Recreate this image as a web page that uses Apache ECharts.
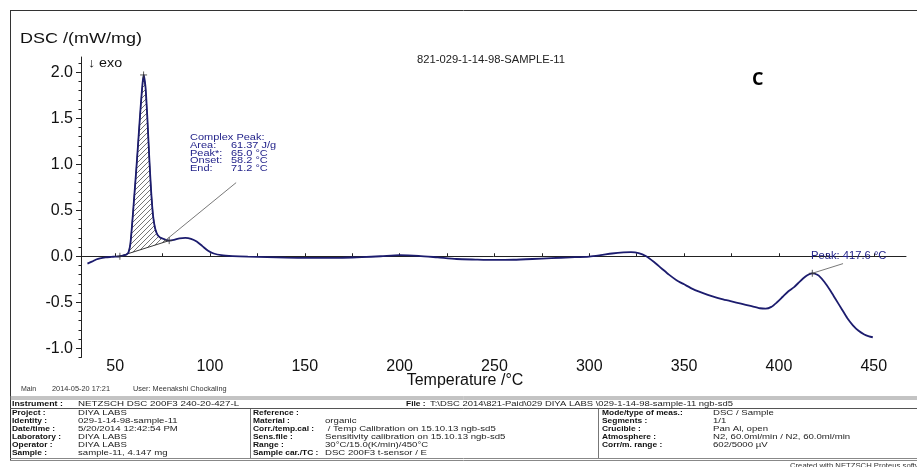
<!DOCTYPE html>
<html>
<head>
<meta charset="utf-8">
<script src="https://cdn.jsdelivr.net/npm/echarts@6/dist/echarts.min.js"></script>
<style>
  html, body { margin: 0; padding: 0; background: #fff; }
  #chart { width: 917px; height: 467px; }
</style>
</head>
<body>
<div id="chart"></div>
<script>
// DSC trace: temperature (°C) and heat flow (mW/mg)
const temps = [35.4, 38, 40, 42, 45, 48, 50, 52.5, 55, 56, 57, 58, 59, 60, 61, 62, 63, 64, 65, 66, 67, 68, 69, 70, 71, 72, 73, 74, 76, 78.5,
  81, 84, 87, 90, 93, 96, 99, 102, 106, 112, 120, 130, 140, 150, 160, 170, 180, 190, 200, 210, 220, 230, 240, 250, 260, 270, 280, 290, 300,
  306, 312, 318, 322, 326, 330, 334, 338, 342, 346, 350, 355, 360, 365, 370, 375, 380, 385, 390, 393, 396, 399, 402, 405, 408, 411, 414,
  416, 417.6, 419, 421, 424, 427, 430, 433, 436, 439, 442, 445, 447.5, 449.5];
const dsc = [-0.08, -0.055, -0.035, -0.022, -0.012, -0.007, -0.004, 0.0, 0.012, 0.02, 0.04, 0.13, 0.36, 0.63, 0.9, 1.19, 1.49, 1.77, 1.97, 1.84, 1.5, 1.07, 0.7, 0.44, 0.31, 0.245, 0.215, 0.2, 0.185, 0.17,
  0.178, 0.195, 0.2, 0.19, 0.16, 0.11, 0.06, 0.03, 0.012, 0.002, -0.005, -0.01, -0.015, -0.018, -0.018, -0.016, -0.01, 0.0, 0.012, 0.005, -0.012, -0.03, -0.036, -0.04, -0.038, -0.03, -0.02, -0.012, -0.003,
  0.012, 0.03, 0.042, 0.045, 0.035, 0.0, -0.06, -0.13, -0.2, -0.26, -0.305, -0.36, -0.4, -0.435, -0.465, -0.49, -0.515, -0.54, -0.565, -0.57, -0.55, -0.5, -0.44, -0.38, -0.335, -0.275, -0.22,
  -0.195, -0.185, -0.19, -0.21, -0.28, -0.37, -0.47, -0.57, -0.67, -0.75, -0.81, -0.85, -0.87, -0.88];

// Integration limits of the complex peak (°C) and evaluated peak positions
const integLimits = [52.5, 78.5];
const peakTemps = [65.0, 417.6];

// Axis ticks
const xTickLabels = [50, 100, 150, 200, 250, 300, 350, 400, 450];
const xTickMarks = [50, 75, 100, 125, 150, 175, 200, 225, 250, 275, 300, 325, 350, 375, 400, 425, 450];
const yTickLabels = [-1.0, -0.5, 0.0, 0.5, 1.0, 1.5, 2.0];
const yMinorTicks = [-1.1, -1.0, -0.9, -0.8, -0.7, -0.6, -0.5, -0.4, -0.3, -0.2, -0.1, 0.0, 0.1, 0.2, 0.3, 0.4, 0.5, 0.6, 0.7, 0.8, 0.9, 1.0, 1.1, 1.2, 1.3, 1.4, 1.5, 1.6, 1.7, 1.8, 1.9, 2.0, 2.1];

// Leader lines of the annotations, in data units: [from, to]
const complexLeader = [[113.8, 0.80], [75.3, 0.152]];
const peakLeader = [[417.6, -0.185], [433.8, -0.08]];

const FONT = "Arial, 'Liberation Sans', sans-serif";
const NAVY = '#23238a';

function valueAt(t) {
  const i = temps.indexOf(t);
  return dsc[i];
}

// Diagonal hatch used for the integrated peak area
const hatch = document.createElement('canvas');
hatch.width = 5; hatch.height = 5;
(function () {
  const c = hatch.getContext('2d');
  c.strokeStyle = '#3a3a3a';
  c.lineWidth = 0.7;
  c.beginPath();
  c.moveTo(0, 5); c.lineTo(5, 0);
  c.moveTo(-1, 1); c.lineTo(1, -1);
  c.moveTo(4, 6); c.lineTo(6, 4);
  c.stroke();
})();

function txt(x, y, s, o) {
  o = o || {};
  return {
    type: 'text', x: x, y: y, scaleX: o.sx || 1, silent: true, z: 10,
    style: {
      text: s,
      font: (o.weight || 'normal') + ' ' + (o.size || 8) + 'px ' + (o.family || FONT),
      fill: o.color || '#222',
      textAlign: o.align || 'left',
      textVerticalAlign: 'middle'
    }
  };
}
function hline(x1, x2, y, color, w) {
  return { type: 'line', silent: true, shape: { x1: x1, y1: y, x2: x2, y2: y }, style: { stroke: color, lineWidth: w } };
}
function vline(x, y1, y2, color, w) {
  return { type: 'line', silent: true, shape: { x1: x, y1: y1, x2: x, y2: y2 }, style: { stroke: color, lineWidth: w } };
}

// Measurement information block
const infoCol1 = [['Project :', 'DIYA LABS'], ['Identity :', '029-1-14-98-sample-11'], ['Date/time :', '5/20/2014 12:42:54 PM'],
  ['Laboratory :', 'DIYA LABS'], ['Operator :', 'DIYA LABS'], ['Sample :', 'sample-11, 4.147 mg']];
const infoCol2 = [['Reference :', ''], ['Material :', 'organic'], ['Corr./temp.cal :', ' / Temp Calibration on 15.10.13 ngb-sd5'],
  ['Sens.file :', 'Sensitivity calibration on 15.10.13 ngb-sd5'], ['Range :', '30°C/15.0(K/min)/450°C'], ['Sample car./TC :', 'DSC 200F3 t-sensor / E']];
const infoCol3 = [['Mode/type of meas.:', 'DSC / Sample'], ['Segments :', '1/1'], ['Crucible :', 'Pan Al, open'],
  ['Atmosphere :', 'N2, 60.0ml/min / N2, 60.0ml/min'], ['Corr/m. range :', '602/5000 µV']];

const graphics = [];
// outer frame
graphics.push(hline(10, 917, 10.5, '#333', 1));
graphics.push(vline(10.5, 10, 460, '#333', 1));
// header texts
graphics.push(txt(20, 39, 'DSC /(mW/mg)', { size: 15, sx: 1.2, color: '#111' }));
graphics.push(txt(88, 63, '↓ exo', { size: 13, sx: 1.1, color: '#111' }));
graphics.push(txt(491, 60, '821-029-1-14-98-SAMPLE-11', { size: 10, sx: 1.12, align: 'center', color: '#222' }));
graphics.push(txt(752, 80, 'C', { size: 18, weight: 'bold', family: "'Open Sans', sans-serif", color: '#000' }));
graphics.push(txt(465, 381, 'Temperature /°C', { size: 16, align: 'center', color: '#111' }));
// peak annotations
const annoLines = [['Complex Peak:', ''], ['Area:', '61.37 J/g'], ['Peak*:', '65.0 °C'], ['Onset:', '58.2 °C'], ['End:', '71.2 °C']];
annoLines.forEach(function (r, i) {
  const y = 137.5 + i * 7.8;
  graphics.push(txt(190, y, r[0], { size: 9, sx: 1.22, color: NAVY }));
  if (r[1]) graphics.push(txt(231, y, r[1], { size: 9, sx: 1.22, color: NAVY }));
});
graphics.push(txt(811, 256, 'Peak: 417.6 °C', { size: 10, sx: 1.12, color: NAVY }));
// footer
graphics.push(txt(21, 389, 'Main', { size: 7, color: '#333' }));
graphics.push(txt(52, 389, '2014-05-20 17:21', { size: 7, sx: 1.05, color: '#333' }));
graphics.push(txt(133, 389, 'User: Meenakshi Chockaling', { size: 7, sx: 1.05, color: '#333' }));
graphics.push(hline(10, 917, 397, '#888', 1));
graphics.push(hline(10, 917, 399, '#888', 1));
graphics.push(hline(10, 917, 408.5, '#555', 1));
graphics.push(hline(10, 917, 458.5, '#888', 1));
graphics.push(hline(10, 917, 460.5, '#888', 1));
graphics.push(vline(250.5, 409, 458, '#777', 1));
graphics.push(vline(598.5, 409, 458, '#777', 1));
graphics.push(txt(12, 404, 'Instrument :', { size: 8, weight: 'bold', sx: 1.1, color: '#111' }));
graphics.push(txt(78, 404, 'NETZSCH DSC 200F3 240-20-427-L', { size: 8, sx: 1.22, color: '#222' }));
graphics.push(txt(406, 404, 'File :', { size: 8, weight: 'bold', sx: 1.05, color: '#111' }));
graphics.push(txt(430, 404, 'T:\\DSC 2014\\821-Paid\\029 DIYA LABS \\029-1-14-98-sample-11 ngb-sd5', { size: 8, sx: 1.18, color: '#222' }));
function addCol(rows, xl, xv) {
  rows.forEach(function (r, i) {
    const y = 413 + i * 8;
    graphics.push(txt(xl, y, r[0], { size: 8, weight: 'bold', sx: 1.05, color: '#111' }));
    if (r[1]) graphics.push(txt(xv, y, r[1], { size: 8, sx: 1.2, color: '#222' }));
  });
}
addCol(infoCol1, 12, 78);
addCol(infoCol2, 253, 325);
addCol(infoCol3, 602, 713);
graphics.push(txt(790, 466, 'Created with NETZSCH Proteus software', { size: 7, sx: 1.1, color: '#333' }));

const curve = temps.map(function (t, i) { return [t, dsc[i]]; });
const markers = [
  [integLimits[0], valueAt(integLimits[0])],
  [peakTemps[0], valueAt(peakTemps[0])],
  [integLimits[1], valueAt(integLimits[1])],
  [peakTemps[1], valueAt(peakTemps[1])]
];

const chart = echarts.init(document.getElementById('chart'), null, { renderer: 'canvas' });
chart.setOption({
  animation: false,
  backgroundColor: '#fff',
  grid: { left: 81, right: 11, top: 57, bottom: 109.5, containLabel: false },
  xAxis: {
    type: 'value', min: 32, max: 467,
    axisLine: { lineStyle: { color: '#222', width: 1 } },
    axisTick: { show: true, inside: true, length: 3, customValues: xTickMarks, lineStyle: { color: '#222' } },
    axisLabel: { customValues: xTickLabels, fontSize: 16, fontFamily: FONT, color: '#111', margin: 1 },
    splitLine: { show: false }
  },
  yAxis: [{
    type: 'value', min: -1.1, max: 2.165,
    axisLine: { show: true, lineStyle: { color: '#222', width: 1 } },
    axisTick: { show: true, length: 5, customValues: yTickLabels, lineStyle: { color: '#222' } },
    axisLabel: { customValues: yTickLabels, fontSize: 16, fontFamily: FONT, color: '#111', margin: 8,
      formatter: function (v) { return v.toFixed(1); } },
    splitLine: { show: false }
  }, {
    type: 'value', min: -1.1, max: 2.165, position: 'left',
    axisLine: { show: false },
    axisTick: { show: true, length: 2.5, customValues: yMinorTicks, lineStyle: { color: '#222' } },
    axisLabel: { show: false },
    splitLine: { show: false }
  }],
  series: [{
    // hatched integration area between the curve and the straight baseline
    type: 'custom', coordinateSystem: 'cartesian2d', silent: true, z: 1,
    data: [[integLimits[0], valueAt(integLimits[0])]],
    renderItem: function (params, api) {
      const pts = [];
      temps.forEach(function (t, i) {
        if (t >= integLimits[0] && t <= integLimits[1]) pts.push(api.coord([t, dsc[i]]));
      });
      return {
        type: 'polygon', shape: { points: pts },
        style: { fill: { image: hatch, repeat: 'repeat' }, stroke: '#222', lineWidth: 0.9 }
      };
    }
  }, {
    type: 'line', data: curve, showSymbol: false, smooth: 0.25, z: 3, silent: true,
    lineStyle: { color: '#1c1c6e', width: 1.8 }
  }, {
    type: 'scatter', data: markers, z: 4, silent: true,
    symbol: 'path://M5 0 L5 10 M0 5 L10 5', symbolSize: 7,
    itemStyle: { color: 'rgba(0,0,0,0)', borderColor: '#333', borderWidth: 1 },
    markLine: {
      silent: true, symbol: ['none', 'none'], animation: false,
      label: { show: false },
      lineStyle: { color: '#555', width: 0.8, type: 'solid' },
      data: [
        [{ coord: complexLeader[0] }, { coord: complexLeader[1] }],
        [{ coord: peakLeader[0] }, { coord: peakLeader[1] }]
      ]
    }
  }],
  graphic: graphics
});
</script>
</body>
</html>
